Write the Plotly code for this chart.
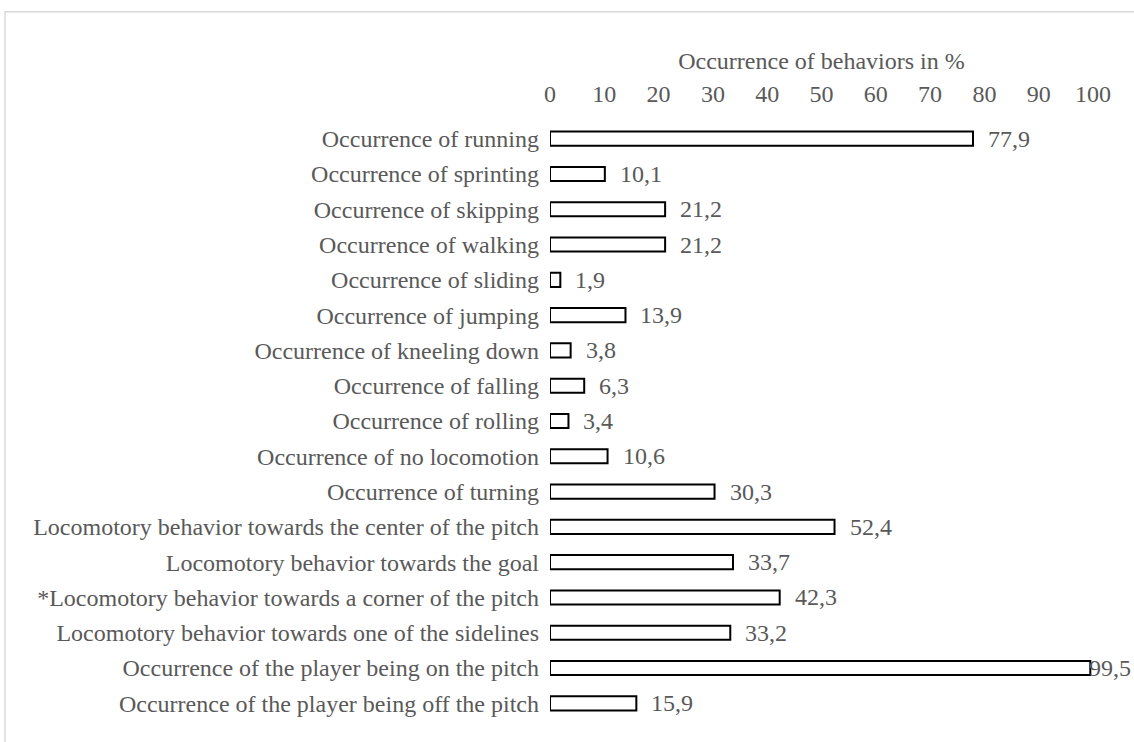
import plotly.graph_objects as go

# behaviours, top to bottom as in the chart
behaviors = [
    "Occurrence of running",
    "Occurrence of sprinting",
    "Occurrence of skipping",
    "Occurrence of walking",
    "Occurrence of sliding",
    "Occurrence of jumping",
    "Occurrence of kneeling down",
    "Occurrence of falling",
    "Occurrence of rolling",
    "Occurrence of no locomotion",
    "Occurrence of turning",
    "Locomotory behavior towards the center of the pitch",
    "Locomotory behavior towards the goal",
    "*Locomotory behavior towards a corner of the pitch",
    "Locomotory behavior towards one of the sidelines",
    "Occurrence of the player being on the pitch",
    "Occurrence of the player being off the pitch",
]
percent = [77.9, 10.1, 21.2, 21.2, 1.9, 13.9, 3.8, 6.3, 3.4, 10.6,
           30.3, 52.4, 33.7, 42.3, 33.2, 99.5, 15.9]
x_ticks = [0, 10, 20, 30, 40, 50, 60, 70, 80, 90, 100]

GREY = "#595959"
FONT = "Liberation Serif, Times New Roman, serif"


def fmt(v):
    # decimal comma, as in the original
    return f"{v:.1f}".replace(".", ",")


fig = go.Figure(
    go.Bar(
        x=percent,
        y=behaviors,
        orientation="h",
        marker=dict(color="white", line=dict(color="black", width=2)),
        hoverinfo="x+y",
    )
)

# value labels to the right of each bar; the longest one sits tight
# against its bar so it stays inside the chart
for name, val in zip(behaviors, percent):
    fig.add_annotation(
        x=val, y=name, text=fmt(val),
        xanchor="left", yanchor="middle",
        xshift=13 if val < 95 else -3,
        showarrow=False,
        font=dict(family=FONT, size=24, color=GREY),
    )

# thin grey chart-area border (only left and top edges visible)
fig.add_shape(
    type="rect", xref="paper", yref="paper",
    x0=-1.0037, x1=1.2, y0=-0.2, y1=1.182,
    line=dict(color="#d9d9d9", width=1.5),
    fillcolor="rgba(0,0,0,0)", layer="below",
)

fig.update_layout(
    width=1134,
    height=742,
    margin=dict(l=550, r=41, t=121, b=21),
    paper_bgcolor="white",
    plot_bgcolor="white",
    bargap=0.6,
    showlegend=False,
    font=dict(family=FONT, size=24, color=GREY),
    xaxis=dict(
        side="top",
        range=[0, 100],
        tickvals=x_ticks,
        showgrid=False,
        zeroline=False,
        showline=False,
        ticks="",
        ticklabelstandoff=13,
        title=dict(text="Occurrence of behaviors in %", standoff=4,
                   font=dict(family=FONT, size=24, color=GREY)),
    ),
    yaxis=dict(
        autorange="reversed",
        showgrid=False,
        zeroline=False,
        showline=False,
        ticks="",
        ticklabelstandoff=10,
    ),
)

# drop the browser's default body margin so the figure sits at (0, 0)
fig.write_html(
    "out.html",
    config={"displayModeBar": False},
    post_script="document.body.style.margin = '0';",
)
